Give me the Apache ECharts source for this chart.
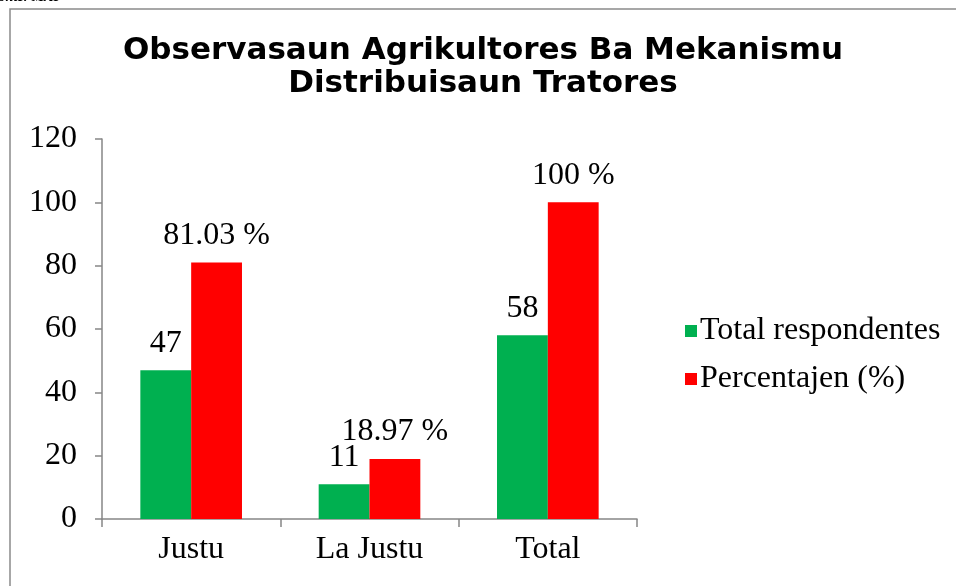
<!DOCTYPE html>
<html>
<head>
<meta charset="utf-8">
<script src="https://cdn.jsdelivr.net/npm/echarts@6/dist/echarts.min.js"></script>
<style>
  html, body { margin: 0; padding: 0; background: #fff; }
  #chart { width: 956px; height: 586px; }
</style>
</head>
<body>
<div id="chart"></div>
<script>
const categories = ['Justu', 'La Justu', 'Total'];
const respondentes = [47, 11, 58];
const percentajen = [81.03, 18.97, 100];
const yTicks = { min: 0, max: 120, interval: 20 };

const serif = '"Liberation Serif", "Times New Roman", serif';
const axisGray = '#868686';

const chart = echarts.init(document.getElementById('chart'));

const option = {
  animation: false,
  backgroundColor: '#fff',
  title: {
    text: 'Observasaun Agrikultores Ba Mekanismu\nDistribuisaun Tratores',
    left: 478,
    top: 29,
    textAlign: 'center',
    textStyle: {
      fontFamily: '"DejaVu Sans", sans-serif',
      fontWeight: 'bold',
      fontSize: 31,
      lineHeight: 33,
      color: '#000'
    }
  },
  graphic: [
    {
      type: 'rect',
      shape: { x: 10, y: 9, width: 1000, height: 700 },
      style: { fill: 'none', stroke: '#8a8a8a', lineWidth: 1.5 },
      silent: true
    },
    {
      type: 'text',
      x: 62,
      y: -10,
      style: {
        text: 'Fonte: MAP',
        align: 'right',
        font: 'italic bold 14px "Liberation Serif", serif',
        fill: '#000'
      }
    }
  ],
  legend: {
    orient: 'vertical',
    left: 680,
    top: 310,
    itemWidth: 12,
    itemHeight: 12,
    itemGap: 16,
    icon: 'rect',
    textStyle: {
      fontFamily: serif,
      fontSize: 32,
      lineHeight: 32,
      color: '#000',
      padding: [0, 0, 0, -2]
    },
    data: ['Total respondentes', 'Percentajen (%)']
  },
  grid: {
    left: 102,
    right: 319,
    top: 139,
    bottom: 67,
    containLabel: false
  },
  xAxis: {
    type: 'category',
    data: categories,
    axisLine: { lineStyle: { color: axisGray, width: 1.5 } },
    axisTick: { show: true, length: 8, lineStyle: { color: axisGray, width: 1.5 } },
    axisLabel: {
      fontFamily: serif,
      fontSize: 32,
      color: '#000',
      margin: 15
    }
  },
  yAxis: {
    type: 'value',
    min: yTicks.min,
    max: yTicks.max,
    interval: yTicks.interval,
    axisLine: { show: true, lineStyle: { color: axisGray, width: 1.5 } },
    axisTick: { show: true, length: 7, lineStyle: { color: axisGray, width: 1.5 } },
    splitLine: { show: false },
    axisLabel: {
      fontFamily: serif,
      fontSize: 32,
      color: '#000',
      margin: 25
    }
  },
  series: [
    {
      name: 'Total respondentes',
      type: 'bar',
      data: respondentes,
      barGap: '0%',
      barCategoryGap: '43%',
      itemStyle: { color: '#00B050' },
      label: {
        show: true,
        position: 'top',
        distance: 11,
        fontFamily: serif,
        fontSize: 32,
        color: '#000'
      }
    },
    {
      name: 'Percentajen (%)',
      type: 'bar',
      data: percentajen,
      itemStyle: { color: '#FF0000' },
      label: {
        show: true,
        position: 'top',
        distance: 11,
        fontFamily: serif,
        fontSize: 32,
        color: '#000',
        formatter: p => p.value + ' %'
      }
    }
  ]
};

chart.setOption(option);
window.addEventListener('resize', () => chart.resize());
</script>
</body>
</html>
